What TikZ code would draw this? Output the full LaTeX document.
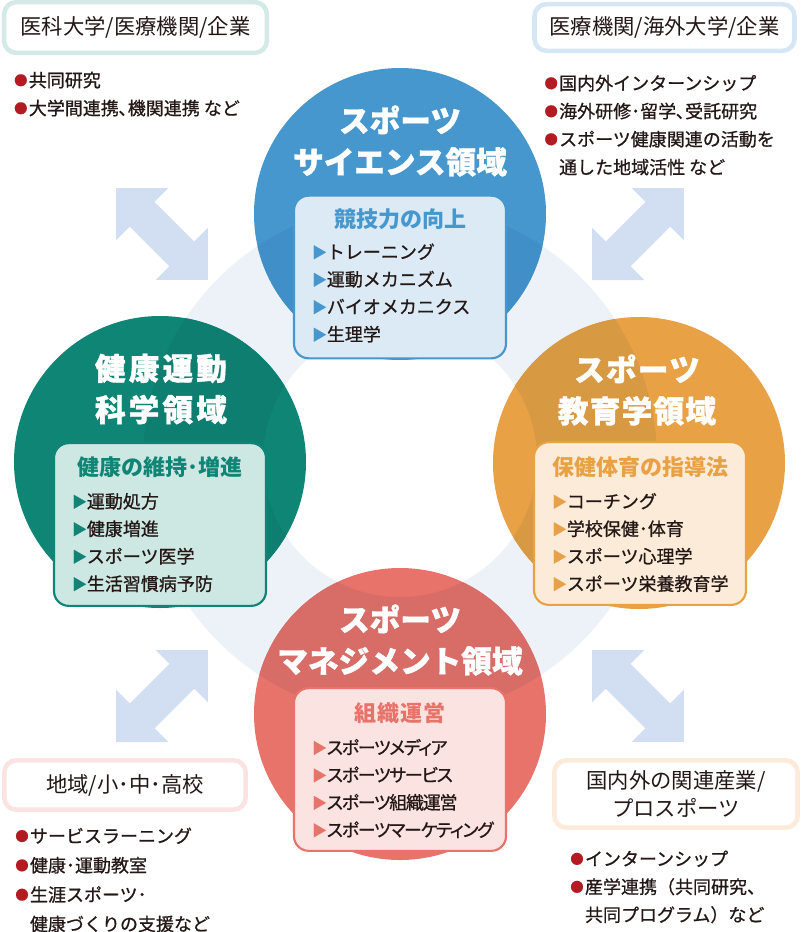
\documentclass[tikz,border=0pt]{standalone}
\usepackage{fontspec}
\setmainfont{Noto Sans CJK JP}
\newfontfamily\medjp[FakeBold=0.8]{Noto Sans CJK JP}
\newfontfamily\titlejp[BoldFeatures={FakeBold=1.2}]{Noto Sans CJK JP}
\usetikzlibrary{positioning,calc}

\definecolor{inkText}{HTML}{231815}
\definecolor{dotRed}{HTML}{B31B23}
\definecolor{ringPale}{HTML}{EDF2F9}
\definecolor{arrowPale}{HTML}{D2DEF1}
\definecolor{sciBlue}{HTML}{4697CD}
\definecolor{sciDeep}{HTML}{418FC8}
\definecolor{sciFill}{HTML}{DBEAF5}
\definecolor{healthTeal}{HTML}{0E8575}
\definecolor{healthDeep}{HTML}{0D7E70}
\definecolor{healthFill}{HTML}{CDE7E3}
\definecolor{eduOrange}{HTML}{E9A145}
\definecolor{eduDeep}{HTML}{D89943}
\definecolor{eduFill}{HTML}{FCEBD8}
\definecolor{mgmtRed}{HTML}{E8736B}
\definecolor{mgmtDeep}{HTML}{D86D68}
\definecolor{mgmtFill}{HTML}{FBE3E1}
\definecolor{tlEdge}{HTML}{D4EAE6}
\definecolor{trEdge}{HTML}{D5E6F4}
\definecolor{blEdge}{HTML}{FAE3E2}
\definecolor{brEdge}{HTML}{FBEBD8}

\newcommand{\tri}[1]{\textcolor{#1}{\raisebox{0.6pt}{\fontsize{11pt}{11pt}\selectfont ▶}}}
\newcommand{\dotbullet}{\makebox[11pt][l]{\textcolor{dotRed}{\raisebox{1.2pt}{\fontsize{10pt}{10pt}\selectfont ●}}}}
\newcommand{\namefont}{\titlejp\fontsize{23pt}{31pt}\selectfont\bfseries}
\newcommand{\listfont}{\medjp\fontsize{13.5pt}{20.6pt}\selectfont}

\begin{document}
\begin{tikzpicture}[x=0.75pt, y=-0.75pt, inner sep=0pt, text=inkText,
  field/.style={circle, minimum size=219pt, fill=#1},
  fieldname/.style={text=white, align=center, font=\namefont},
  topicbox/.style 2 args={rounded corners=11pt, draw=#1, fill=#2, line width=1.6pt,
    minimum width=159pt, minimum height=122pt},
  topichead/.style={text=#1, font=\fontsize{16.5pt}{20pt}\selectfont\bfseries},
  topiclist/.style={align=left, anchor=west, font=\listfont},
  partnerbox/.style={rounded corners=9pt, draw=#1, line width=3.4pt, fill=white,
    align=center, font=\fontsize{16pt}{21pt}\selectfont},
  partnerlist/.style={align=left, anchor=west, font=\medjp\fontsize{13.5pt}{21pt}\selectfont},
  linkarrow/.pic={\fill[arrowPale] (0,0) -- (37,37) -- (37,17.5) -- (93,17.5) -- (93,37)
    -- (130,0) -- (93,-37) -- (93,-17.5) -- (37,-17.5) -- (37,-37) -- cycle;}]

\useasboundingbox (0,0) rectangle (800,932);

% background ring
\coordinate (hub) at (400,460);
\fill[ringPale, even odd rule] (hub) circle (257) (hub) circle (137);

% four fields
\node[field=sciBlue] (sci) at (400,214) {};
\node[field=healthTeal] (health) at (160,462) {};
\node[field=eduOrange] (edu) at (639,463) {};
\node[field=mgmtRed] (mgmt) at (400,714) {};

\foreach \f/\c in {sci/sciDeep, health/healthDeep, edu/eduDeep, mgmt/mgmtDeep}{
  \begin{scope}
    \clip (\f.center) circle (146);
    \fill[\c, even odd rule] (hub) circle (257) (hub) circle (137);
  \end{scope}
}

% links to partners
\pic[rotate=-45] at (116,188) {linkarrow};
\pic[rotate=45] at (592,280) {linkarrow};
\pic[rotate=45] at (116,742) {linkarrow};
\pic[rotate=-45] at (592,650) {linkarrow};

% field titles
\node[fieldname] (sciName) at ($(sci)+(0,-73)$) {スポーツ\\サイエンス領域};
\node[fieldname, font=\namefont\addfontfeature{LetterSpace=10}] (healthName) at ($(health)+(1,-73)$) {健康運動\\科学領域};
\node[fieldname, font=\namefont\addfontfeature{LetterSpace=4}] (eduName) at ($(edu)+(-2,-73)$) {スポーツ\\教育学領域};
\node[fieldname] (mgmtName) at ($(mgmt)+(0,-74)$) {スポーツ\\マネジメント領域};

% topic boxes
\node[topicbox={sciBlue}{sciFill}] (sciBox) at ($(sci)+(0,63)$) {};
\node[topichead=sciBlue] (sciHead) at ($(sciBox.north)+(0,25)$) {競技力の向上};
\node[topiclist] (sciList) at ($(sciBox.west)+(19,16)$)
  {\tri{sciBlue}トレーニング\\\tri{sciBlue}運動メカニズム\\\tri{sciBlue}バイオメカニクス\\\tri{sciBlue}生理学};

\node[topicbox={healthTeal}{healthFill}] (healthBox) at ($(health)+(0,62.5)$) {};
\node[topichead=healthTeal] (healthHead) at ($(healthBox.north)+(0,25)$) {健康の維持･増進};
\node[topiclist] (healthList) at ($(healthBox.west)+(19,18)$)
  {\tri{healthTeal}運動処方\\\tri{healthTeal}健康増進\\\tri{healthTeal}スポーツ医学\\\tri{healthTeal}生活習慣病予防};

\node[topicbox={eduOrange}{eduFill}] (eduBox) at ($(edu)+(1,60.5)$) {};
\node[topichead=eduOrange] (eduHead) at ($(eduBox.north)+(0,26)$) {保健体育の指導法};
\node[topiclist] (eduList) at ($(eduBox.west)+(19,19)$)
  {\tri{eduOrange}コーチング\\\tri{eduOrange}学校保健･体育\\\tri{eduOrange}スポーツ心理学\\\tri{eduOrange}スポーツ栄養教育学};

\node[topicbox={mgmtRed}{mgmtFill}] (mgmtBox) at ($(mgmt)+(0,55.5)$) {};
\node[topichead=mgmtRed, font=\fontsize{16.5pt}{20pt}\selectfont\bfseries\addfontfeature{LetterSpace=6}] (mgmtHead) at ($(mgmtBox.north)+(0,26)$) {組織運営};
\node[topiclist, font=\listfont\addfontfeature{RawFeature=+palt, LetterSpace=-7}] (mgmtList) at ($(mgmtBox.west)+(19,19)$)
  {\tri{mgmtRed}スポーツメディア\\\tri{mgmtRed}スポーツサービス\\\tri{mgmtRed}スポーツ組織運営\\\tri{mgmtRed}スポーツマーケティング};

% partners
\node[partnerbox=tlEdge, minimum width=197pt, minimum height=38pt] (tlBox) at (135.5,27.5) {医科大学/医療機関/企業};
\node[partnerlist] (tlList) at ($(tlBox.south west)+(12,39)$)
  {\dotbullet 共同研究\\\dotbullet 大学間連携､機関連携 など};

\node[partnerbox=trEdge, minimum width=195pt, minimum height=35pt] (trBox) at (664.5,27.5) {医療機関/海外大学/企業};
\node[partnerlist] (trList) at ($(trBox.south west)+(12,72)$)
  {\dotbullet 国内外インターンシップ\\\dotbullet 海外研修･留学､受託研究\\\dotbullet スポーツ健康関連の活動を\\\hspace*{11pt}通した地域活性 など};

\node[partnerbox=blEdge, minimum width=181pt, minimum height=37pt] (blBox) at (125,785) {地域/小･中･高校};
\node[partnerlist, font=\medjp\fontsize{13.5pt}{22pt}\selectfont] (blList) at ($(blBox.south west)+(13,68)$)
  {\dotbullet サービスラーニング\\\dotbullet 健康･運動教室\\\dotbullet 生涯スポーツ･\\\hspace*{11pt}健康づくりの支援など};

\node[partnerbox=brEdge, minimum width=182.5pt, minimum height=50.5pt] (brBox) at (676,794) {国内外の関連産業/\\プロスポーツ};
\node[partnerlist] (brList) at ($(brBox.south west)+(18,57)$)
  {\dotbullet インターンシップ\\\dotbullet 産学連携（共同研究、\\\hspace*{11pt}共同プログラム）など};

\end{tikzpicture}
\end{document}
